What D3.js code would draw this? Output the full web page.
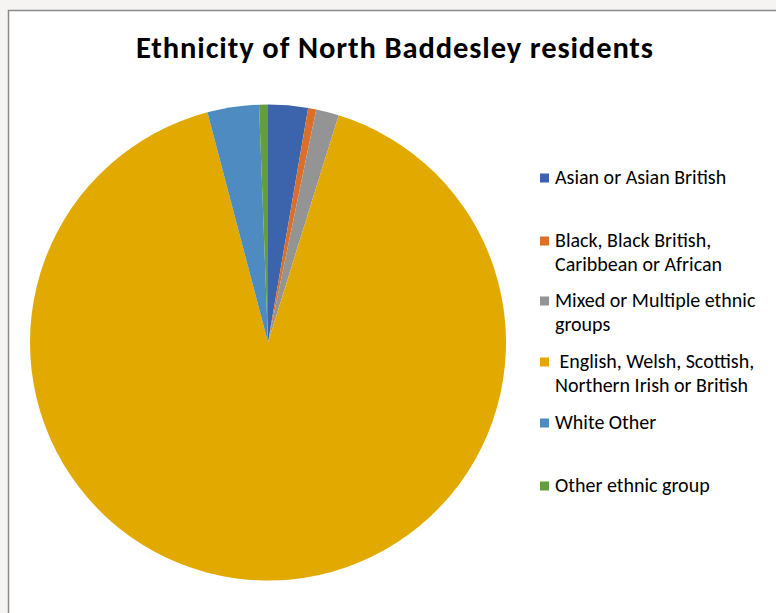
<!DOCTYPE html>
<html><head><meta charset="utf-8">
<script src="https://cdn.jsdelivr.net/npm/d3@7"></script>
<style>html,body{margin:0;padding:0;background:#f5f4f2;}svg{display:block;}</style>
</head><body>
<script>
const categories = ["Asian or Asian British", "Black, Black British, Caribbean or African", "Mixed or Multiple ethnic groups", "English, Welsh, Scottish, Northern Irish or British", "White Other", "Other ethnic group"];
const values = [2.7, 0.55, 1.55, 91.1, 3.5, 0.6];
const legendLines = [["Asian or Asian British"], ["Black, Black British,", "Caribbean or African"], ["Mixed or Multiple ethnic", "groups"], [" English, Welsh, Scottish,", "Northern Irish or British"], ["White Other"], ["Other ethnic group"]];
const colors = ["#3c64ac", "#db6f29", "#949494", "#e2aa00", "#4e8bc0", "#629d3e"];
const title = "Ethnicity of North Baddesley residents";

const W = 776, H = 613;
const FONT = "Carlito, Calibri, Lato, sans-serif";
const svg = d3.select("body").append("svg").attr("width", W).attr("height", H);
svg.append("rect").attr("x", 8.5).attr("y", 10.5).attr("width", W).attr("height", H).attr("fill", "#fff").attr("stroke", "#8a8a8a").attr("stroke-width", 1.5);

svg.append("text").attr("x", 136).attr("y", 58)
  .attr("font-family", FONT).attr("font-weight", "bold").attr("font-size", 30.5).attr("fill", "#000")
  .attr("textLength", 517).attr("lengthAdjust", "spacing").text(title);

const color = d3.scaleOrdinal().domain(categories).range(colors);
const pie = d3.pie().sort(null).value(d => d.v);
const arcs = pie(categories.map((c, i) => ({c, v: values[i]})));
const arc = d3.arc().innerRadius(0).outerRadius(238);
const g = svg.append("g").attr("transform", "translate(268,342.5)");
g.selectAll("path").data(arcs).join("path").attr("d", arc).attr("fill", d => color(d.data.c));

const legendBase = [184, 247, 307, 368, 429, 492];
const lg = svg.append("g");
categories.forEach((c, i) => {
  lg.append("rect").attr("x", 540).attr("y", legendBase[i] - 10.5).attr("width", 9).attr("height", 9).attr("fill", color(c));
  legendLines[i].forEach((t, j) => {
    lg.append("text").attr("x", 555).attr("y", legendBase[i] + j * 24)
      .attr("font-family", FONT).attr("font-size", 20).attr("fill", "#000")
      .attr("xml:space", "preserve").style("white-space", "pre").text(t);
  });
});
</script>
</body></html>
